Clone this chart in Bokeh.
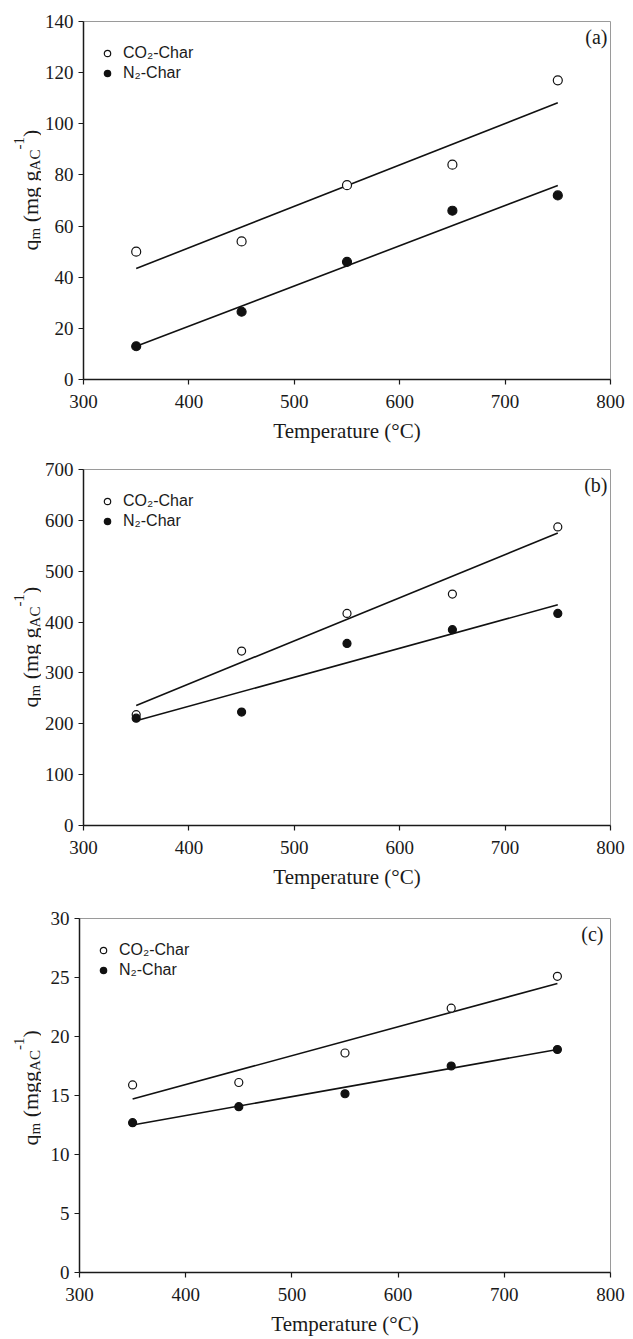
import math
from bokeh.plotting import figure
from bokeh.models import Range1d, FixedTicker, Label, Legend, LegendItem
from bokeh.layouts import column, row
from bokeh.embed import file_html
from bokeh.resources import INLINE

# ---------------- data ----------------
temps = [350, 450, 550, 650, 750]
fit_x = [350, 750]
x_ticks = [300, 400, 500, 600, 700, 800]

a_co2 = [50, 54, 76, 84, 117]
a_n2 = [13, 26.5, 46, 66, 72]
a_co2_fit = [43.4, 108.2]
a_n2_fit = [13.0, 75.9]
a_ticks = [0, 20, 40, 60, 80, 100, 120, 140]

b_co2 = [218, 343, 417, 455, 587]
b_n2 = [211, 223, 358, 385, 417]
b_co2_fit = [236, 575]
b_n2_fit = [206, 434]
b_ticks = [0, 100, 200, 300, 400, 500, 600, 700]

c_co2 = [15.9, 16.1, 18.6, 22.4, 25.1]
c_n2 = [12.7, 14.05, 15.15, 17.5, 18.9]
c_co2_fit = [14.7, 24.5]
c_n2_fit = [12.5, 18.9]
c_ticks = [0, 5, 10, 15, 20, 25, 30]

SERIF = "Liberation Serif"
SANS = "Liberation Sans"
INK = "#1a1a1a"

LAB_W = 41          # width of the strip holding the rotated y title
LEFT, RIGHT = 79, 23  # frame offsets from the page edges
MAIN, SUB = 22, 15

# approximate advance widths (em) for a Times-like serif
ADV = {"q": .5, "m": .778, " ": .25, "(": .333, ")": .333, "g": .5,
       "A": .722, "C": .667, "-": .333, "1": .5}


def tw(s, size):
    return sum(ADV.get(ch, .5) for ch in s) * size


def make_panel(tag, co2, n2, co2_fit, n2_fit, ymax, yticks, h, top, bottom,
               ylab_pieces, ylab_bottom, ylab_x, msize):
    fw = 633 - LEFT - RIGHT
    fh = h - top - bottom
    p = figure(width=633 - LAB_W, height=h, output_backend="svg",
               toolbar_location=None,
               x_range=Range1d(300, 800), y_range=Range1d(0, ymax),
               min_border_left=LEFT - LAB_W, min_border_right=RIGHT,
               min_border_top=top, min_border_bottom=bottom)
    p.xgrid.visible = False
    p.ygrid.visible = False
    p.outline_line_color = "#9a9a9a"
    p.outline_line_width = 1
    p.background_fill_color = "white"
    p.border_fill_color = "white"

    for ax in (p.xaxis[0], p.yaxis[0]):
        ax.axis_line_color = INK
        ax.axis_line_width = 1.5
        ax.major_tick_line_color = INK
        ax.major_tick_line_width = 1.2
        ax.major_tick_out = 5
        ax.major_tick_in = 0
        ax.minor_tick_line_color = None
        ax.major_label_text_font = SERIF
        ax.major_label_text_font_size = "19px"
        ax.major_label_text_color = INK
    p.yaxis.major_label_standoff = 5
    p.xaxis.major_label_standoff = 10
    p.xaxis.ticker = FixedTicker(ticks=x_ticks)
    p.yaxis.ticker = FixedTicker(ticks=yticks)
    p.xaxis.axis_label = "Temperature (°C)"
    p.xaxis.axis_label_text_font = SERIF
    p.xaxis.axis_label_text_font_size = "21px"
    p.xaxis.axis_label_text_font_style = "normal"
    p.xaxis.axis_label_text_color = INK
    p.xaxis.axis_label_standoff = 8

    # trend lines
    p.line(fit_x, co2_fit, line_color="#111111", line_width=1.6)
    p.line(fit_x, n2_fit, line_color="#111111", line_width=1.6)
    # data points
    r_co2 = p.scatter(temps, co2, marker="circle", size=msize, fill_color="white",
                      line_color="#111111", line_width=1.2)
    r_n2 = p.scatter(temps, n2, marker="circle", size=msize, fill_color="#111111",
                     line_color="#111111", line_width=1.2)

    legend = Legend(items=[LegendItem(label="CO₂-Char", renderers=[r_co2]),
                           LegendItem(label="N₂-Char", renderers=[r_n2])],
                    location=(16, fh - 62), margin=0, padding=0, spacing=0,
                    glyph_width=16, glyph_height=20, label_height=20,
                    label_standoff=8, border_line_color=None,
                    background_fill_alpha=0,
                    label_text_font=SANS, label_text_font_size="16px",
                    label_text_color=INK)
    p.add_layout(legend, "center")

    p.add_layout(Label(x=fw - 7, y=fh - 15, x_units="screen", y_units="screen",
                       text=tag, text_align="right", text_baseline="middle",
                       text_font=SERIF, text_font_size="20px", text_color=INK))

    # narrow strip on the left carrying the rotated y title
    s = figure(width=LAB_W, height=h, output_backend="svg", toolbar_location=None,
               x_axis_type=None, y_axis_type=None,
               x_range=Range1d(0, 1), y_range=Range1d(0, 1),
               min_border_left=0, min_border_right=0,
               min_border_top=top, min_border_bottom=bottom)
    s.outline_line_color = None
    s.xgrid.visible = False
    s.ygrid.visible = False
    s.background_fill_color = "white"
    s.border_fill_color = "white"
    y = ylab_bottom
    for txt, kind, gap in ylab_pieces:
        size = MAIN if kind == "n" else SUB
        dx = 0 if kind == "n" else (4 if kind == "sub" else -12)
        y += gap * MAIN
        s.add_layout(Label(x=ylab_x + dx, y=y, x_units="screen", y_units="screen",
                           text=txt, angle=math.pi / 2, text_align="left",
                           text_baseline="alphabetic", text_font=SERIF,
                           text_font_size=f"{size}px", text_color=INK))
        y += tw(txt, size)
    return row(s, p, spacing=0)


# (text, kind, leading space in em) -- leading spaces are collapsed in SVG
pieces_ab = [("q", "n", 0), ("m", "sub", 0), ("(mg g", "n", 0.25),
             ("AC", "sub", 0), ("-1", "sup", 0), (")", "n", 0)]
pieces_c = [("q", "n", 0), ("m", "sub", 0), ("(mgg", "n", 0.25),
            ("AC", "sub", 0), ("-1", "sup", 0), (")", "n", 0)]

pa = make_panel("(a)", a_co2, a_n2, a_co2_fit, a_n2_fit, 140, a_ticks, 450,
                21, 71, pieces_ab, 129, 30, 9)
pb = make_panel("(b)", b_co2, b_n2, b_co2_fit, b_n2_fit, 700, b_ticks, 450,
                19, 75, pieces_ab, 118, 30, 8)
pc = make_panel("(c)", c_co2, c_n2, c_co2_fit, c_n2_fit, 30, c_ticks, 439,
                18, 67, pieces_c, 127, 30, 8)

layout = column(pa, pb, pc, spacing=0)
open("out.html", "w").write(file_html(layout, INLINE))
